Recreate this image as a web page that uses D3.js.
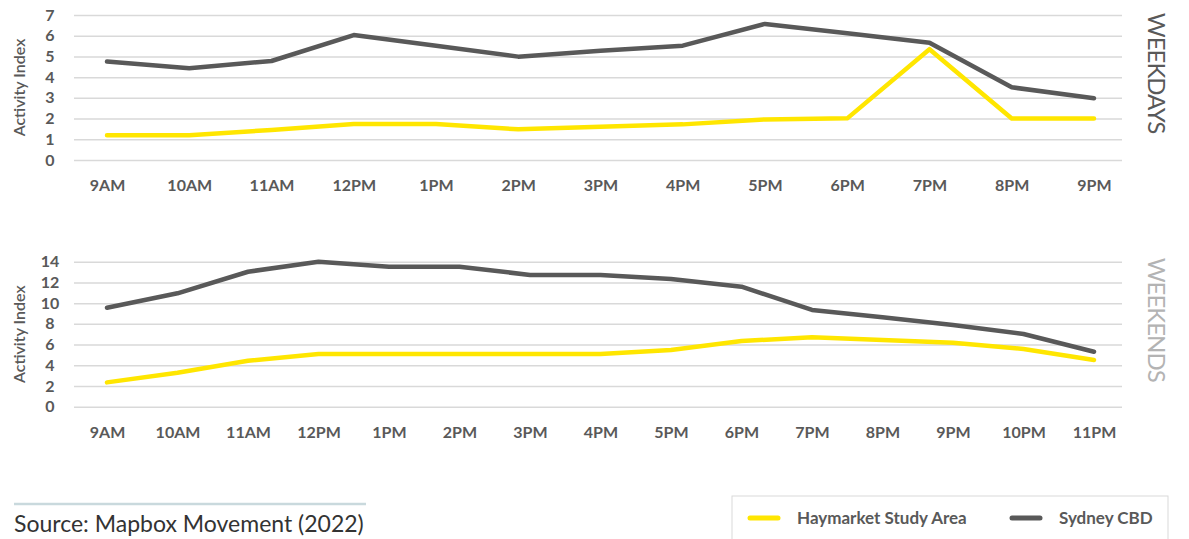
<!DOCTYPE html>
<html>
<head>
<meta charset="utf-8">
<script src="https://cdn.jsdelivr.net/npm/d3@7"></script>
<style>
  body { margin: 0; background: #fff; font-family: Lato, "Open Sans", sans-serif; }
  .tick text { fill: #595959; }
</style>
</head>
<body>
<div id="graph"></div>
<script>
// weekday hours + values
var weekdayHours = ["9AM", "10AM", "11AM", "12PM", "1PM", "2PM", "3PM", "4PM", "5PM", "6PM", "7PM", "8PM", "9PM"];
var weekdayHaymarket = [1.2, 1.2, 1.45, 1.74, 1.74, 1.48, 1.61, 1.72, 1.96, 2.01, 5.35, 2.0, 2.0];
var weekdaySydney = [4.75, 4.43, 4.78, 6.03, 5.52, 4.99, 5.27, 5.52, 6.57, 6.12, 5.66, 3.51, 2.98];
var weekdayTicks = [0, 1, 2, 3, 4, 5, 6, 7];

// weekend hours + values
var weekendHours = ["9AM", "10AM", "11AM", "12PM", "1PM", "2PM", "3PM", "4PM", "5PM", "6PM", "7PM", "8PM", "9PM", "10PM", "11PM"];
var weekendHaymarket = [2.35, 3.28, 4.44, 5.09, 5.09, 5.09, 5.09, 5.09, 5.47, 6.34, 6.7, 6.44, 6.18, 5.57, 4.51];
var weekendSydney = [9.56, 10.95, 13.03, 14.0, 13.52, 13.52, 12.72, 12.72, 12.33, 11.59, 9.34, 8.63, 7.89, 7.02, 5.31];
var weekendTicks = [0, 2, 4, 6, 8, 10, 12, 14];

var seriesNames = ["Haymarket Study Area", "Sydney CBD"];
var seriesColors = ["#ffe600", "#595959"];

var width = 1189;
var height = 539;

var svg = d3.select("#graph")
    .append("svg")
    .attr("width", width)
    .attr("height", height);

function drawPanel(hours, hay, syd, ticks, top, bottom, title, titleColor) {
    var xScale = d3.scalePoint().domain(hours).range([107, 1094]);
    var yScale = d3.scaleLinear().domain([0, d3.max(ticks)]).range([bottom, top]);

    // gridlines
    var grid = svg.append("g")
        .attr("transform", "translate(1122,0)")
        .call(d3.axisLeft(yScale).tickValues(ticks).tickSize(1048).tickFormat(""));
    grid.select(".domain").remove();
    grid.selectAll("line").attr("stroke", "#d9d9d9").attr("stroke-width", 1.5);

    // y labels
    var yAxis = svg.append("g")
        .attr("transform", "translate(50,0)")
        .call(d3.axisLeft(yScale).tickValues(ticks).tickSize(0).tickPadding(0).tickFormat(d3.format("d")));
    yAxis.select(".domain").remove();
    yAxis.selectAll("text")
        .attr("text-anchor", "middle")
        .style("font-family", "Lato")
        .style("font-weight", "bold")
        .style("font-size", "16px");

    // x labels
    var xAxis = svg.append("g")
        .attr("transform", "translate(0," + (bottom + 20) + ")")
        .call(d3.axisBottom(xScale).tickSize(0).tickPadding(0));
    xAxis.select(".domain").remove();
    xAxis.selectAll("text")
        .attr("dy", "0.71em")
        .style("font-family", "Lato")
        .style("font-weight", "bold")
        .style("font-size", "16px");

    svg.append("text")
        .attr("transform", "translate(25," + ((top + bottom) / 2) + ") rotate(-90)")
        .attr("text-anchor", "middle")
        .style("font-size", "16px")
        .style("font-weight", "600")
        .attr("fill", "#595959")
        .text("Activity Index");

    svg.append("text")
        .attr("transform", "translate(1148," + (top + 58) + ") rotate(90)")
        .attr("text-anchor", "middle")
        .style("font-size", "24px")
        .style("letter-spacing", "-1px")
        .attr("fill", titleColor)
        .text(title);

    var line = d3.line()
        .x(function(d, i) { return xScale(hours[i]); })
        .y(function(d) { return yScale(d); });

    [hay, syd].forEach(function(vals, k) {
        svg.append("path")
            .datum(vals)
            .attr("d", line)
            .attr("fill", "none")
            .attr("stroke", seriesColors[k])
            .attr("stroke-width", 4.5)
            .attr("stroke-linecap", "round")
            .attr("stroke-linejoin", "round");
    });
}

drawPanel(weekdayHours, weekdayHaymarket, weekdaySydney, weekdayTicks, 15, 160, "WEEKDAYS", "#595959");
drawPanel(weekendHours, weekendHaymarket, weekendSydney, weekendTicks, 261.7, 406.7, "WEEKENDS", "#b3b3b3");

// source
svg.append("line")
    .attr("x1", 14).attr("x2", 366)
    .attr("y1", 504).attr("y2", 504)
    .attr("stroke", "#c9d9dd")
    .attr("stroke-width", 2.5);

svg.append("text")
    .attr("x", 14)
    .attr("y", 532)
    .style("font-size", "23px")
    .attr("fill", "#333")
    .text("Source: Mapbox Movement (2022)");

// legend
svg.append("rect")
    .attr("x", 732).attr("y", 496)
    .attr("width", 436).attr("height", 60)
    .attr("fill", "none")
    .attr("stroke", "#d9d9d9")
    .attr("stroke-width", 1);

var legendX = [748, 1010];
var legendTextX = [797, 1059];
seriesNames.forEach(function(name, k) {
    svg.append("line")
        .attr("x1", legendX[k] + 2).attr("x2", legendX[k] + 30)
        .attr("y1", 518).attr("y2", 518)
        .attr("stroke", seriesColors[k])
        .attr("stroke-width", 5)
        .attr("stroke-linecap", "round");
    svg.append("text")
        .attr("x", legendTextX[k])
        .attr("y", 518)
        .attr("dy", "0.35em")
        .style("font-size", "17px")
        .style("font-weight", "bold")
        .attr("fill", "#595959")
        .text(name);
});
</script>
</body>
</html>
